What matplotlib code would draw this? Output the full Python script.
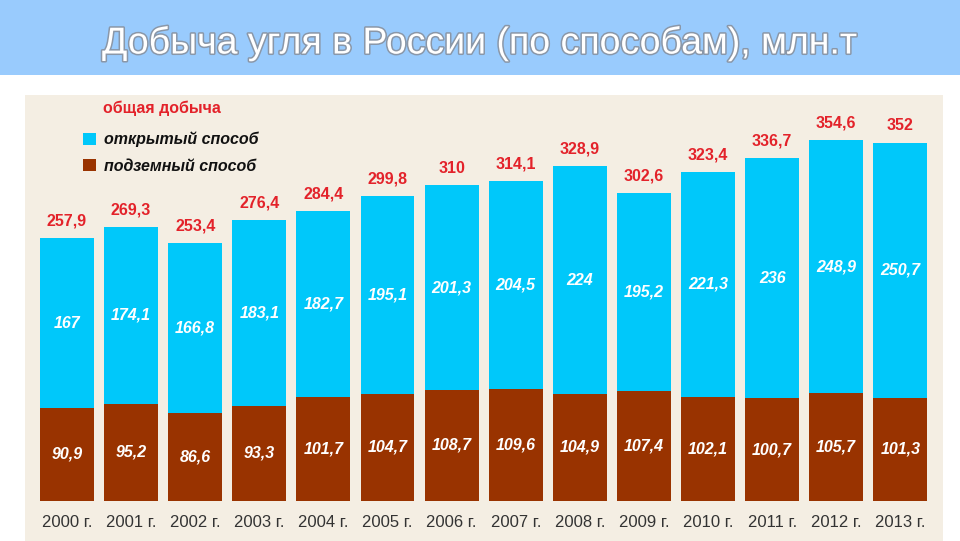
import matplotlib
matplotlib.use("Agg")
import matplotlib.pyplot as plt
from matplotlib.patches import Patch, Rectangle
import matplotlib.patheffects as pe

years = ["2000 г.", "2001 г.", "2002 г.", "2003 г.", "2004 г.", "2005 г.", "2006 г.",
         "2007 г.", "2008 г.", "2009 г.", "2010 г.", "2011 г.", "2012 г.", "2013 г."]
open_pit = [167, 174.1, 166.8, 183.1, 182.7, 195.1, 201.3, 204.5, 224, 195.2, 221.3, 236, 248.9, 250.7]
underground = [90.9, 95.2, 86.6, 93.3, 101.7, 104.7, 108.7, 109.6, 104.9, 107.4, 102.1, 100.7, 105.7, 101.3]
total = [257.9, 269.3, 253.4, 276.4, 284.4, 299.8, 310, 314.1, 328.9, 302.6, 323.4, 336.7, 354.6, 352]

title = "Добыча угля в России (по способам), млн.т"
lbl_total = "общая добыча"
lbl_open = "открытый способ"
lbl_under = "подземный способ"

BLUE = "#00c8fa"
BROWN = "#993300"
RED = "#e3222a"
BEIGE = "#f4eee3"
BANNER = "#99cbfd"

plt.rcParams['font.family'] = ['Liberation Sans', 'DejaVu Sans']

W, H = 960, 541
fig = plt.figure(figsize=(W / 100, H / 100), dpi=100)
fig.patch.set_facecolor("white")

# banner
fig.patches.append(Rectangle((0, 1 - 75 / H), 1, 75 / H, transform=fig.transFigure,
                             facecolor=BANNER, edgecolor="none", zorder=0))
t = fig.text(0.5, 1 - 43 / H, title, ha="center", va="center", fontsize=27,
             color="white")
t.set_path_effects([pe.withStroke(linewidth=2.2, foreground="#8a97a8")])

# axes over beige panel
px_l, px_r, px_t = 25, 943, 95
ax = fig.add_axes([px_l / W, 0, (px_r - px_l) / W, (H - px_t) / H])
ax.set_facecolor(BEIGE)
for s in ax.spines.values():
    s.set_visible(False)

x = list(range(len(years)))
ax.bar(x, underground, width=0.84, color=BROWN, zorder=2)
ax.bar(x, open_pit, width=0.84, bottom=underground, color=BLUE, zorder=2)

ax.set_xlim(-0.655, 13.666)
ax.set_ylim(-39.6, 398.9)
ax.set_yticks([])
ax.set_xticks([])

for i, yl in enumerate(years):
    ax.text(i, -21.6, yl, ha="center", va="center", fontsize=12, color="#333333")


def fmt(v):
    if float(v).is_integer():
        return str(int(v))
    return f"{v}".replace(".", ",")


for i in x:
    u, o, tt = underground[i], open_pit[i], total[i]
    ax.text(i, u / 2, fmt(u), ha="center", va="center", color="white",
            fontsize=11.5, fontweight="bold", style="italic", zorder=3)
    ax.text(i, u + o / 2, fmt(o), ha="center", va="center", color="white",
            fontsize=11.5, fontweight="bold", style="italic", zorder=3)
    ax.annotate(fmt(tt), (i, u + o), xytext=(0, 9), textcoords="offset points",
                ha="center", va="baseline", color=RED, fontsize=11.5,
                fontweight="bold", zorder=3)

# legend
fig.text(103 / W, 1 - 108 / H, lbl_total, ha="left", va="center", color=RED,
         fontsize=11.5, fontweight="bold")
handles = [Patch(facecolor=BLUE, edgecolor="none", label=lbl_open),
           Patch(facecolor=BROWN, edgecolor="none", label=lbl_under)]
leg = fig.legend(handles=handles, loc="upper left", bbox_to_anchor=(78 / W, 1 - 127 / H),
                 frameon=False, prop={"size": 11.5, "weight": "bold", "style": "italic"},
                 handlelength=0.85, handleheight=0.85, handletextpad=0.45,
                 labelspacing=0.7, borderaxespad=0, borderpad=0.3)
for tx in leg.get_texts():
    tx.set_color("#111111")

fig.savefig("out.png", dpi=100, facecolor=fig.get_facecolor())
